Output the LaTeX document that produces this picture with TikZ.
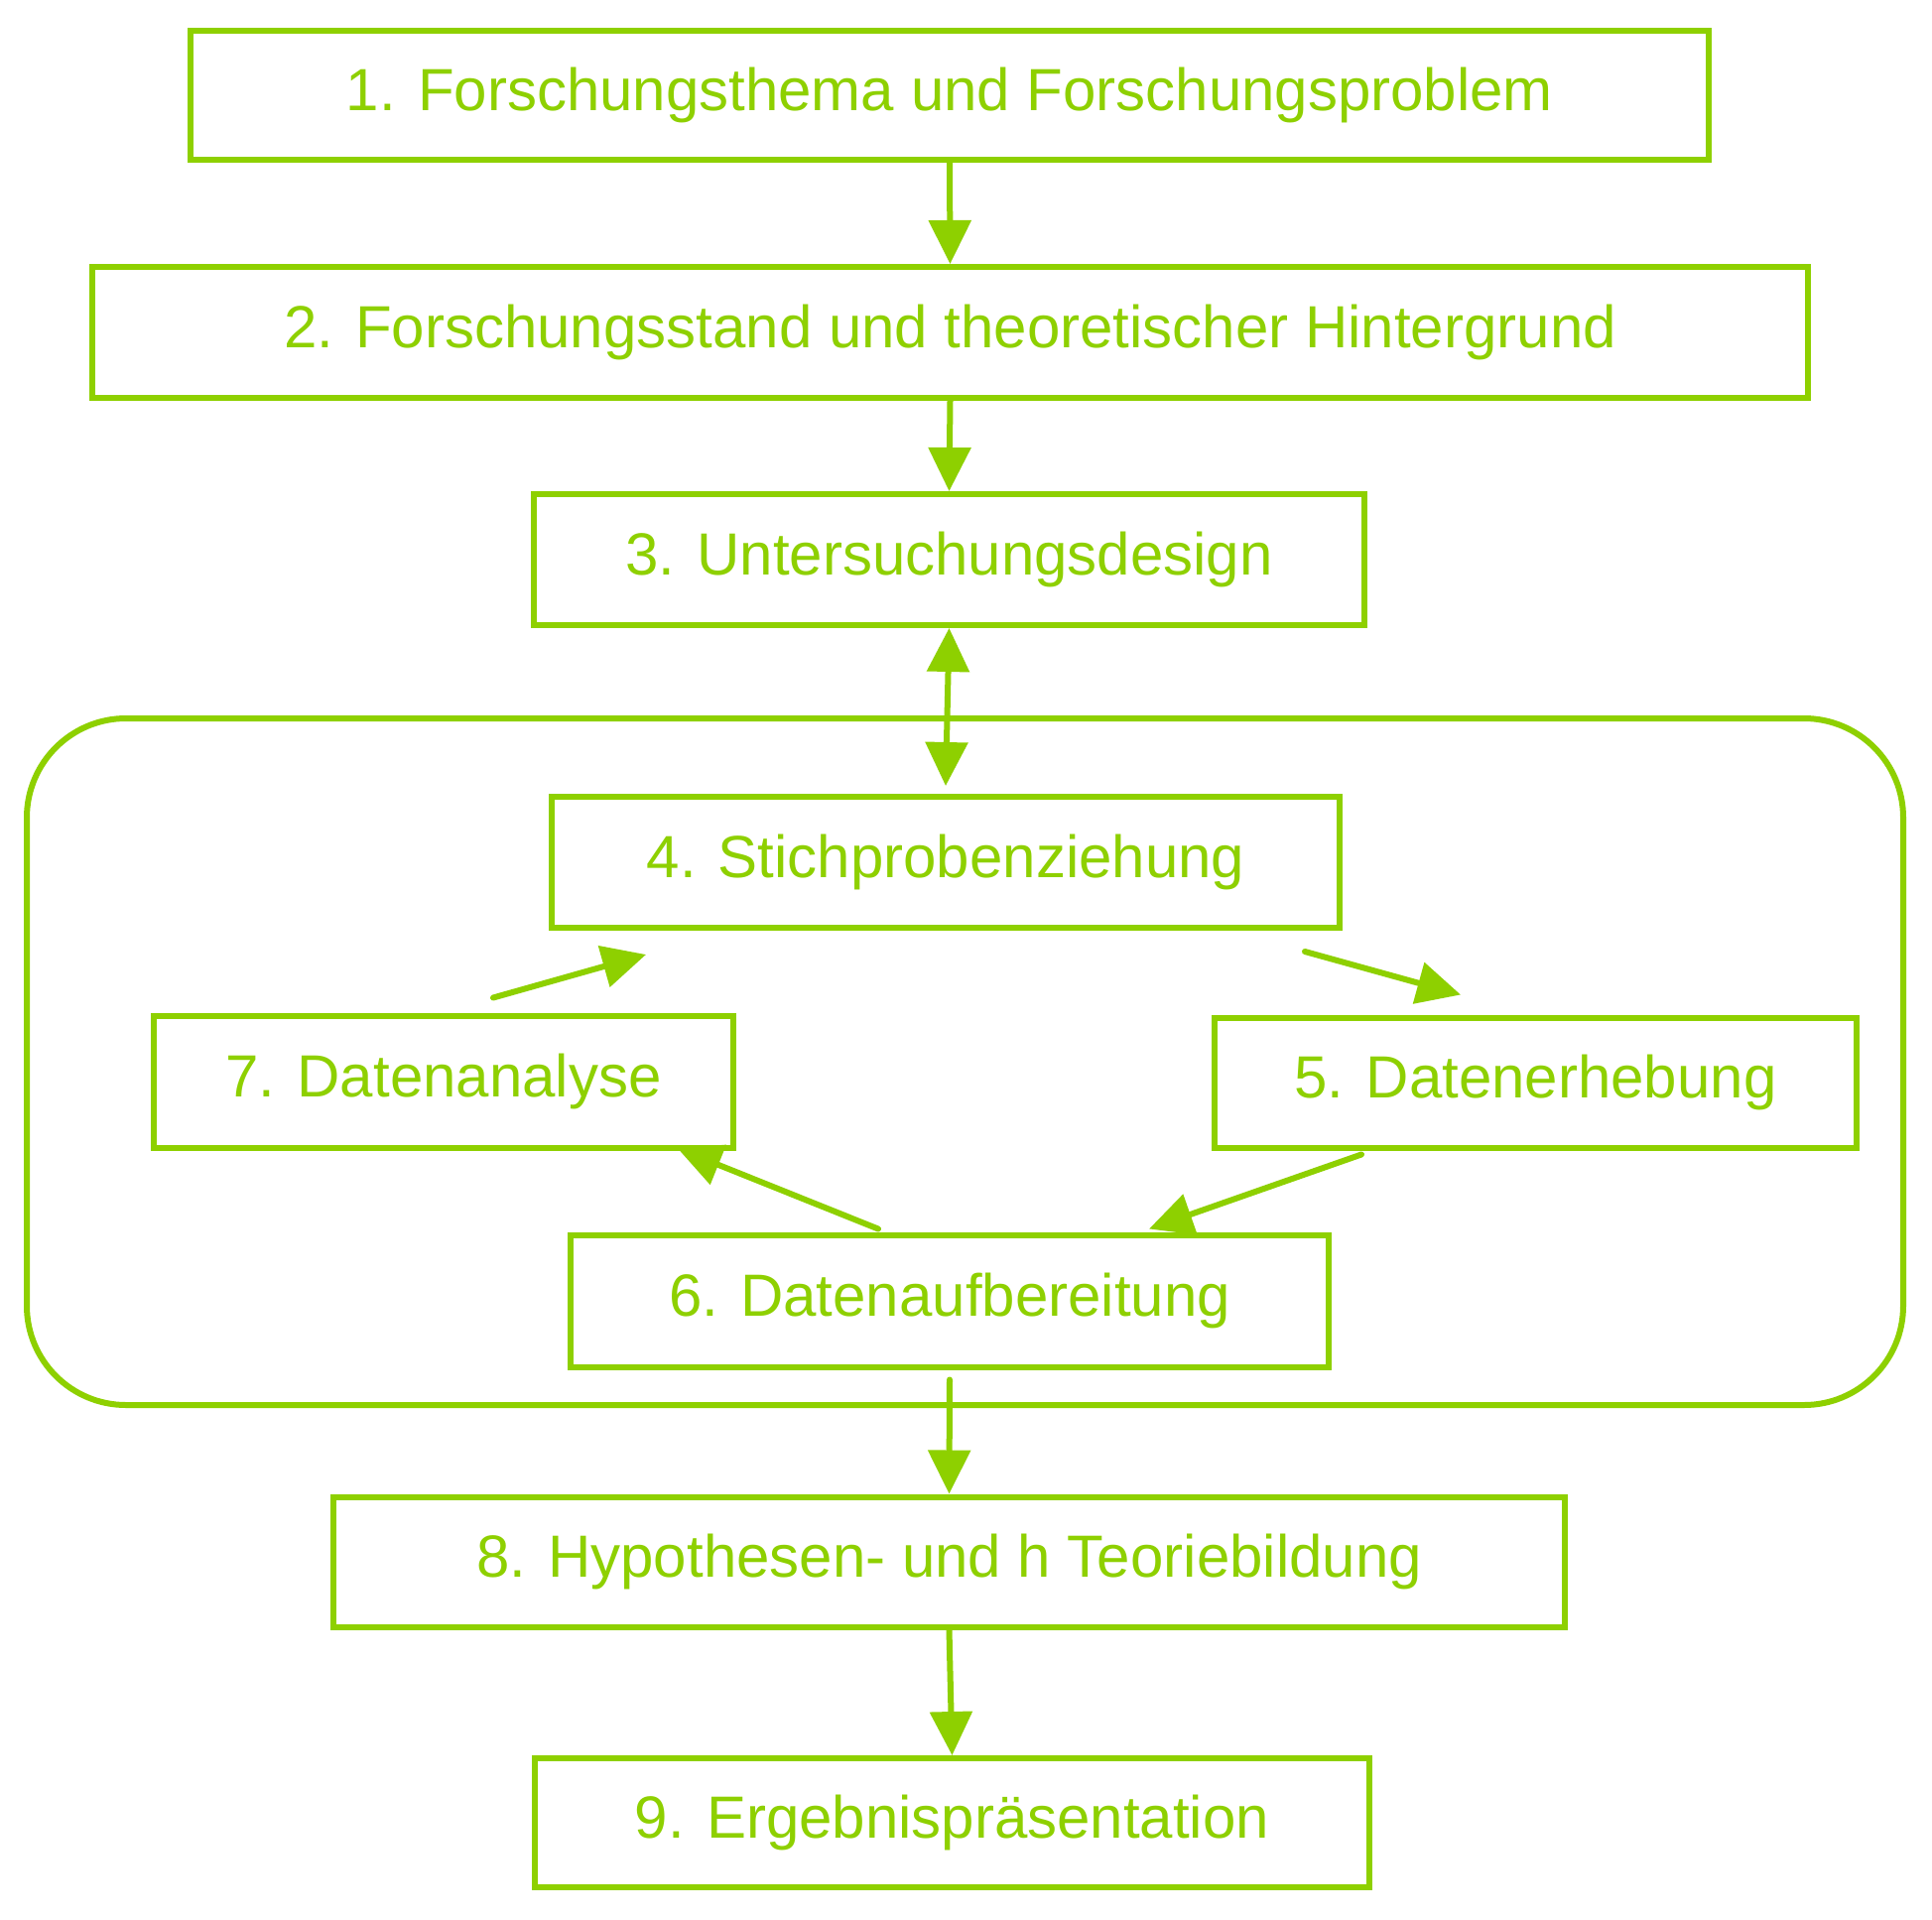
\documentclass[tikz,border=0pt]{standalone}
\usepackage{fontspec}
\setmainfont{Liberation Sans}
\usetikzlibrary{arrows.meta}
\definecolor{lime}{RGB}{142,208,0}
\begin{document}
\begin{tikzpicture}[x=1pt,y=-1pt,
  stepbox/.style={draw=lime, line width=6pt, text=lime, rectangle, inner sep=0pt,
    font=\fontsize{60}{64}\selectfont},
  conn/.style={draw=lime, line width=6pt, line cap=round,
    -{Triangle[length=44pt,width=42pt]}},
  bconn/.style={draw=lime, line width=6pt, line cap=round,
    {Triangle[length=44pt,width=42pt]}-{Triangle[length=44pt,width=42pt]}}]
\useasboundingbox (0,0) rectangle (1947,1935);
\fill[white] (0,0) rectangle (1947,1935);
% container
\draw[draw=lime, line width=6pt, rounded corners=100pt] (27,724) rectangle (1918,1416);
% boxes
\node[stepbox, minimum width=1530pt, minimum height=130pt] (b1) at (957,96) {1. Forschungsthema und Forschungsproblem};
\node[stepbox, minimum width=1729pt, minimum height=132pt] (b2) at (957.5,335) {2. Forschungsstand und theoretischer Hintergrund};
\node[stepbox, minimum width=837pt, minimum height=132pt] (b3) at (956.5,564) {3. Untersuchungsdesign};
\node[stepbox, minimum width=794pt, minimum height=132pt] (b4) at (953,869) {4. Stichprobenziehung};
\node[stepbox, minimum width=584pt, minimum height=133pt] (b7) at (447,1090) {7. Datenanalyse};
\node[stepbox, minimum width=647pt, minimum height=131pt] (b5) at (1547.5,1091) {5. Datenerhebung};
\node[stepbox, minimum width=764pt, minimum height=133pt] (b6) at (957,1311) {6. Datenaufbereitung};
\node[stepbox, minimum width=1241pt, minimum height=131pt] (b8) at (956.5,1574) {8. Hypothesen- und h Teoriebildung};
\node[stepbox, minimum width=841pt, minimum height=130pt] (b9) at (959.5,1837) {9. Ergebnispräsentation};
% free ends
\coordinate (s45) at ([shift={(-38,21)}]b4.south east);
\coordinate (e45) at ([shift={(251,-20)}]b5.north west);
\coordinate (s56) at ([shift={(151,4)}]b5.south west);
\coordinate (e56) at ([shift={(-184,-3)}]b6.north east);
\coordinate (s67) at ([shift={(-72,-3)}]b6.north);
\coordinate (e67) at ([shift={(-59,-2)}]b7.south east);
\coordinate (s74) at ([shift={(50,-15)}]b7.north);
\coordinate (e74) at ([shift={(98,24)}]b4.south west);
\coordinate (e34) at ([shift={(0,-8)}]b4.north);
\coordinate (s68) at ([shift={(0,10)}]b6.south);
% connectors
\draw[conn] (b1.south) -- (b2.north);
\draw[conn] (b2.south) -- (b3.north);
\draw[bconn] (b3.south) -- (e34);
\draw[conn] (s45) -- (e45);
\draw[conn] (s56) -- (e56);
\draw[conn] (s67) -- (e67);
\draw[conn] (s74) -- (e74);
\draw[conn] (s68) -- (b8.north);
\draw[conn] (b8.south) -- (b9.north);
\end{tikzpicture}
\end{document}
